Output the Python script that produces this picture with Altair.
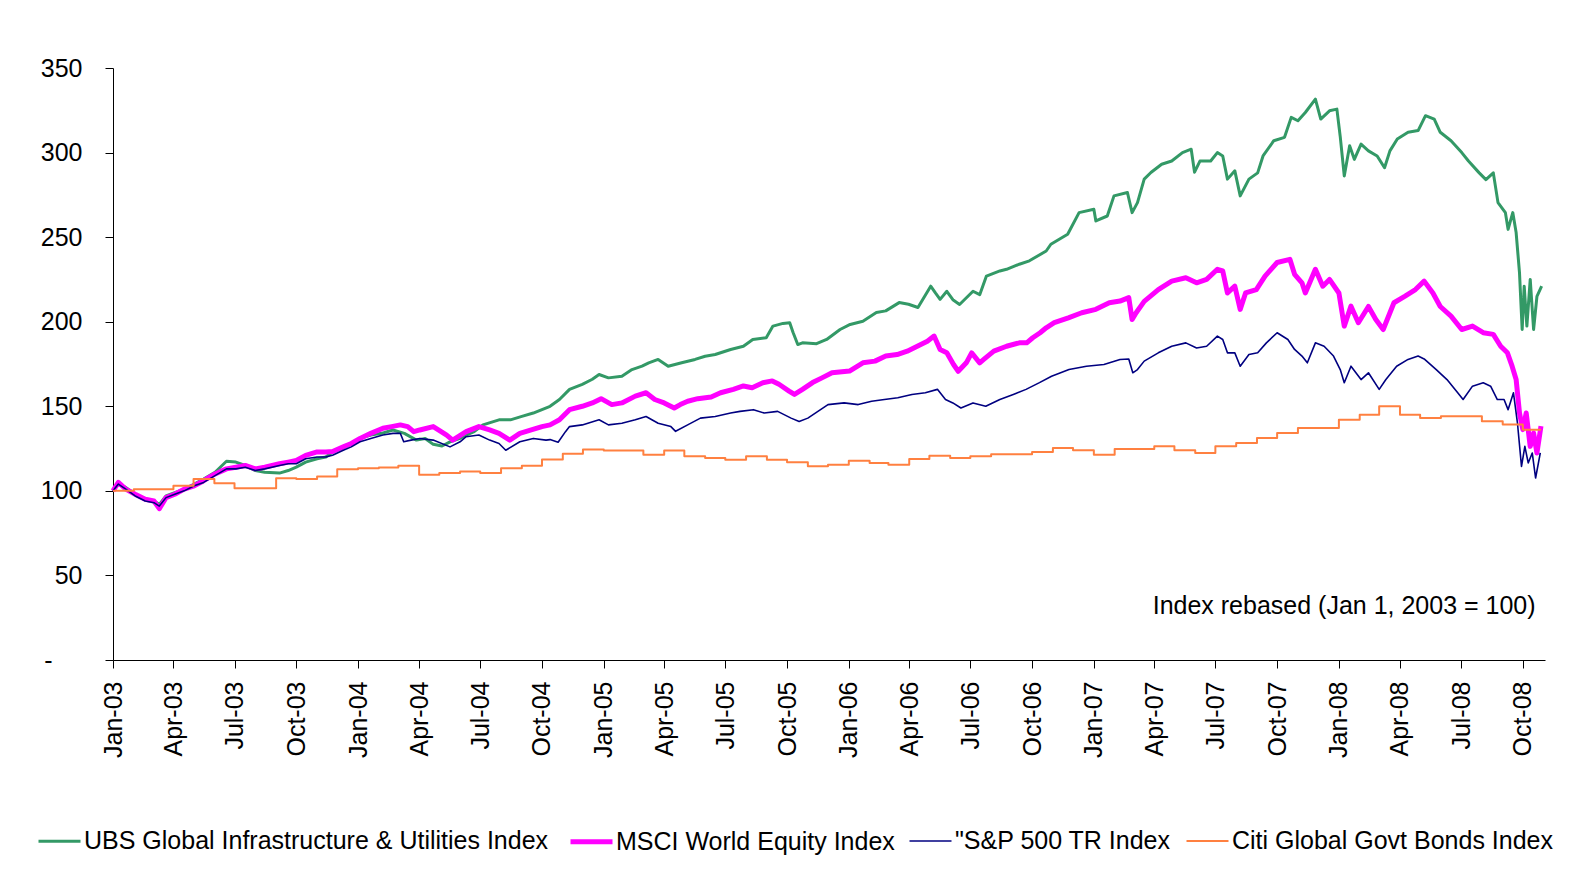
import altair as alt
import pandas as pd

SERIES = [
    "UBS Global Infrastructure & Utilities Index",
    "MSCI World Equity Index",
    "\"S&P 500 TR Index",
    "Citi Global Govt Bonds Index",
]
COLORS = ["#339966", "#FF00FF", "#000080", "#FF8040"]
WIDTHS = [3, 5, 1.6, 2]

UBS_DATES = [
    "2003-01-01", "2003-01-09", "2003-01-20", "2003-02-03", "2003-02-18", "2003-03-03", "2003-03-11", "2003-03-21",
    "2003-04-03", "2003-04-17", "2003-05-02", "2003-05-16", "2003-06-02", "2003-06-19", "2003-07-03", "2003-07-17",
    "2003-08-01", "2003-08-15", "2003-09-06", "2003-09-19", "2003-10-01", "2003-10-15", "2003-11-01", "2003-11-14",
    "2003-11-24", "2003-12-10", "2003-12-22", "2004-01-04", "2004-01-20", "2004-02-05", "2004-02-22", "2004-03-10",
    "2004-03-28", "2004-04-10", "2004-04-22", "2004-05-05", "2004-05-17", "2004-06-01", "2004-06-10", "2004-06-22",
    "2004-07-05", "2004-07-29", "2004-08-15", "2004-09-01", "2004-09-18", "2004-10-13", "2004-10-27", "2004-11-11",
    "2004-11-30", "2004-12-15", "2004-12-25", "2005-01-08", "2005-01-28", "2005-02-12", "2005-02-27", "2005-03-09",
    "2005-03-23", "2005-04-07", "2005-04-27", "2005-05-17", "2005-06-01", "2005-06-16", "2005-07-09", "2005-07-28",
    "2005-08-11", "2005-08-31", "2005-09-10", "2005-09-25", "2005-10-05", "2005-10-10", "2005-10-17", "2005-10-24",
    "2005-11-14", "2005-11-29", "2005-12-19", "2006-01-03", "2006-01-22", "2006-02-11", "2006-02-25", "2006-03-17",
    "2006-03-31", "2006-04-14", "2006-05-03", "2006-05-10", "2006-05-17", "2006-05-27", "2006-06-05", "2006-06-15",
    "2006-07-05", "2006-07-15", "2006-07-25", "2006-08-14", "2006-08-24", "2006-09-12", "2006-09-27", "2006-10-22",
    "2006-10-29", "2006-11-23", "2006-12-10", "2007-01-01", "2007-01-04", "2007-01-21", "2007-01-31", "2007-02-20",
    "2007-02-27", "2007-03-07", "2007-03-17", "2007-03-27", "2007-04-12", "2007-04-27", "2007-05-13", "2007-05-26",
    "2007-05-31", "2007-06-08", "2007-06-24", "2007-07-04", "2007-07-12", "2007-07-19", "2007-07-30", "2007-08-07",
    "2007-08-20", "2007-09-02", "2007-09-10", "2007-09-26", "2007-10-12", "2007-10-22", "2007-11-01", "2007-11-12",
    "2007-11-27", "2007-12-05", "2007-12-18", "2007-12-29", "2008-01-03", "2008-01-09", "2008-01-17", "2008-01-24",
    "2008-02-03", "2008-02-14", "2008-02-27", "2008-03-09", "2008-03-17", "2008-03-28", "2008-04-13", "2008-04-28",
    "2008-05-09", "2008-05-22", "2008-05-31", "2008-06-16", "2008-07-02", "2008-07-12", "2008-07-28", "2008-08-07",
    "2008-08-18", "2008-08-25", "2008-09-05", "2008-09-09", "2008-09-16", "2008-09-21", "2008-09-26", "2008-09-30",
    "2008-10-03", "2008-10-07", "2008-10-12", "2008-10-17", "2008-10-22", "2008-10-29",
]
UBS_VALUES = [
    100, 104, 102, 98, 95, 94, 92, 97,
    99, 101, 104, 107, 111, 117.5, 117, 115,
    112, 111, 110.5, 112, 114, 117, 119, 120,
    123, 126, 128, 131, 133, 134, 136, 134,
    130, 131, 127.5, 126.5, 129, 131, 133, 135,
    139, 142, 142, 144, 146, 150, 154, 160,
    163, 166, 168.8, 166.8, 167.8, 171.7, 173.7, 175.7,
    177.7, 173.7, 175.7, 177.7, 179.6, 180.6, 183.6, 185.5,
    189.5, 190.5, 197.4, 199, 199.4, 193.6, 186.5, 187.5,
    187, 189.5, 195.4, 198.4, 200.3, 205.4, 206.4, 211.3,
    210.3, 208.4, 221, 217, 213.2, 218, 213, 210.2,
    218, 216, 227, 230, 231, 234, 236, 241.8,
    245.8, 251.7, 264.5, 266.5, 259.6, 262.5, 274.4, 276.4,
    264.5, 270.4, 284.3, 288.2, 293.1, 295, 300, 302,
    288.4, 295, 295, 300, 298, 284.3, 289.2, 274.4,
    284.3, 288, 298, 307, 309, 320.8, 318.8, 323.7,
    331.6, 319.8, 324.7, 325.7, 309.4, 286.2, 304, 296,
    305, 301, 298, 291, 301, 308, 312, 313,
    321.8, 319.8, 312, 307, 300, 295, 288, 284,
    288, 270.4, 264.5, 254.6, 264.5, 252.7, 229, 195.4,
    221, 197.4, 225, 195.4, 215, 221,
]

MSCI_DATES = [
    "2003-01-01", "2003-01-09", "2003-01-20", "2003-02-03", "2003-02-18", "2003-03-03", "2003-03-11", "2003-03-21",
    "2003-04-03", "2003-04-17", "2003-05-02", "2003-05-16", "2003-06-02", "2003-06-19", "2003-07-03", "2003-07-17",
    "2003-08-01", "2003-08-15", "2003-09-06", "2003-09-19", "2003-10-01", "2003-10-15", "2003-11-01", "2003-11-14",
    "2003-11-24", "2003-12-10", "2003-12-22", "2004-01-04", "2004-01-20", "2004-02-07", "2004-02-20", "2004-03-04",
    "2004-03-15", "2004-03-24", "2004-04-02", "2004-04-22", "2004-05-12", "2004-05-21", "2004-06-10", "2004-06-29",
    "2004-07-15", "2004-07-29", "2004-08-14", "2004-08-29", "2004-09-15", "2004-10-01", "2004-10-13", "2004-10-27",
    "2004-11-11", "2004-11-30", "2004-12-15", "2004-12-28", "2005-01-13", "2005-01-28", "2005-02-17", "2005-03-05",
    "2005-03-18", "2005-04-01", "2005-04-16", "2005-04-25", "2005-05-06", "2005-05-21", "2005-06-10", "2005-06-24",
    "2005-07-13", "2005-07-28", "2005-08-10", "2005-08-26", "2005-09-09", "2005-09-19", "2005-10-04", "2005-10-12",
    "2005-10-24", "2005-11-08", "2005-11-22", "2005-12-07", "2006-01-02", "2006-01-22", "2006-02-09", "2006-02-25",
    "2006-03-14", "2006-03-29", "2006-04-13", "2006-04-28", "2006-05-08", "2006-05-17", "2006-05-27", "2006-06-06",
    "2006-06-13", "2006-06-25", "2006-07-03", "2006-07-15", "2006-07-21", "2006-08-05", "2006-08-24", "2006-09-12",
    "2006-09-23", "2006-10-02", "2006-10-13", "2006-10-22", "2006-11-03", "2006-11-24", "2006-12-14", "2007-01-04",
    "2007-01-24", "2007-02-09", "2007-02-22", "2007-02-27", "2007-03-05", "2007-03-17", "2007-04-07", "2007-04-27",
    "2007-05-18", "2007-06-03", "2007-06-18", "2007-07-04", "2007-07-12", "2007-07-19", "2007-07-30", "2007-08-07",
    "2007-08-15", "2007-08-31", "2007-09-13", "2007-10-01", "2007-10-20", "2007-10-27", "2007-11-07", "2007-11-12",
    "2007-11-27", "2007-12-08", "2007-12-18", "2008-01-01", "2008-01-09", "2008-01-19", "2008-01-30", "2008-02-14",
    "2008-02-25", "2008-03-07", "2008-03-23", "2008-04-08", "2008-04-24", "2008-05-07", "2008-05-20", "2008-05-31",
    "2008-06-16", "2008-07-02", "2008-07-18", "2008-08-03", "2008-08-18", "2008-08-29", "2008-09-08", "2008-09-15",
    "2008-09-21", "2008-09-26", "2008-10-01", "2008-10-06", "2008-10-12", "2008-10-17", "2008-10-22", "2008-10-28",
]
MSCI_VALUES = [
    100, 105, 101, 98, 95, 94, 89.5, 96,
    98, 101, 103, 106, 110, 113, 114, 115,
    113, 114, 116, 117, 118, 121, 123, 123,
    123.3, 126, 128, 131, 134, 137, 138, 139,
    138, 135, 136, 138, 133, 130, 135, 138,
    136, 134, 130, 134, 136, 138, 139, 142,
    148, 150, 152, 154.5, 151, 152, 156, 158,
    154, 152, 149, 151, 153, 154.5, 155.5, 158,
    160, 162, 161, 163.9, 165, 163, 159, 157,
    160, 164, 166.8, 169.8, 170.8, 175.7, 176.7, 179.7,
    180.6, 182.6, 185.5, 188.5, 191.5, 183.6, 181.6, 174.7,
    170.7, 175.7, 181.6, 175.7, 177.7, 182.6, 185.5, 187.5,
    187.5, 190.5, 193.5, 196.4, 199.4, 202.3, 205.3, 207.3,
    211.2, 212.2, 214.2, 201.3, 205.3, 212, 219, 224,
    226, 223, 225, 231, 230, 217, 221, 207.3,
    217, 219, 227, 235, 236.9, 228, 223, 217,
    231, 221, 225, 217, 197.4, 209.2, 199.4, 209,
    201.3, 195.4, 211.2, 215, 219, 224, 217, 209,
    203.3, 195.4, 197.4, 193.5, 192.5, 185.5, 181.6, 173.7,
    165.8, 146, 136.2, 146, 126.3, 134.2, 122.4, 138.2,
]

SP_DATES = [
    "2003-01-01", "2003-01-09", "2003-01-20", "2003-02-03", "2003-02-18", "2003-03-03", "2003-03-11", "2003-03-21",
    "2003-04-03", "2003-04-17", "2003-05-02", "2003-05-16", "2003-06-02", "2003-06-19", "2003-07-03", "2003-07-17",
    "2003-08-01", "2003-08-15", "2003-09-06", "2003-09-19", "2003-10-01", "2003-10-15", "2003-11-01", "2003-11-14",
    "2003-11-24", "2003-12-10", "2003-12-22", "2004-01-04", "2004-01-20", "2004-02-07", "2004-02-22", "2004-03-04",
    "2004-03-09", "2004-03-20", "2004-04-02", "2004-04-22", "2004-05-17", "2004-06-01", "2004-06-10", "2004-06-29",
    "2004-07-15", "2004-07-29", "2004-08-08", "2004-08-29", "2004-09-18", "2004-10-07", "2004-10-13", "2004-10-25",
    "2004-11-05", "2004-11-11", "2004-11-30", "2004-12-25", "2005-01-08", "2005-01-28", "2005-02-17", "2005-03-05",
    "2005-03-23", "2005-04-11", "2005-04-18", "2005-05-06", "2005-05-25", "2005-06-16", "2005-07-09", "2005-07-23",
    "2005-08-12", "2005-08-28", "2005-09-17", "2005-10-07", "2005-10-19", "2005-11-01", "2005-11-16", "2005-12-01",
    "2005-12-25", "2006-01-15", "2006-02-04", "2006-02-23", "2006-03-15", "2006-04-05", "2006-04-25", "2006-05-13",
    "2006-05-25", "2006-06-05", "2006-06-17", "2006-07-05", "2006-07-24", "2006-08-14", "2006-09-03", "2006-09-22",
    "2006-10-12", "2006-10-30", "2006-11-25", "2006-12-21", "2007-01-16", "2007-02-09", "2007-02-22", "2007-02-28",
    "2007-03-07", "2007-03-17", "2007-04-07", "2007-04-27", "2007-05-18", "2007-06-03", "2007-06-18", "2007-07-04",
    "2007-07-12", "2007-07-19", "2007-07-30", "2007-08-07", "2007-08-20", "2007-09-02", "2007-09-15", "2007-10-01",
    "2007-10-17", "2007-10-27", "2007-11-07", "2007-11-15", "2007-11-27", "2007-12-10", "2007-12-24", "2008-01-03",
    "2008-01-09", "2008-01-19", "2008-02-03", "2008-02-14", "2008-03-01", "2008-03-11", "2008-03-27", "2008-04-13",
    "2008-04-28", "2008-05-07", "2008-05-25", "2008-06-10", "2008-06-26", "2008-07-04", "2008-07-18", "2008-08-03",
    "2008-08-14", "2008-08-24", "2008-09-03", "2008-09-09", "2008-09-17", "2008-09-23", "2008-09-29", "2008-10-04",
    "2008-10-09", "2008-10-15", "2008-10-20", "2008-10-27",
]
SP_VALUES = [
    100, 104, 101, 97, 94, 93, 91, 96,
    98, 100, 103, 105, 109, 113, 113, 114,
    112, 113, 115, 116, 116, 119, 120, 120,
    121, 124, 126, 129, 131, 133, 134, 134,
    129, 130, 131, 130, 126, 129, 132, 133,
    130, 128, 124, 129, 131, 130, 130.3, 128.7,
    135, 138, 139, 142, 139, 140, 142, 144,
    140, 138, 135.2, 139, 143, 144, 146, 147,
    148, 146, 147, 143, 141, 143, 147, 151,
    152, 151, 153, 154, 155, 157, 158, 160,
    154, 152, 149, 152, 150, 154, 157, 160,
    164, 167.8, 171.7, 173.7, 174.7, 177.7, 178, 169.8,
    171.7, 176.7, 181.6, 185.5, 187.5, 184.5, 185.5, 191.5,
    189.5, 181.6, 181.6, 173.7, 180.6, 181.6, 187.5, 193.5,
    189.5, 183.6, 179.7, 175.7, 187.5, 185.5, 179.7, 171.7,
    163.9, 173.7, 165.8, 169.8, 160, 165.8, 173.7, 177.7,
    179.7, 178, 171.7, 165.8, 158, 154, 161.9, 163.9,
    161.9, 154, 154, 148, 158, 140, 114.5, 126.3,
    116.5, 122.4, 107.6, 122.4,
]

BOND_DATES = [
    "2003-01-01", "2003-02-01", "2003-03-01", "2003-04-01", "2003-05-01", "2003-06-01", "2003-07-01", "2003-08-01",
    "2003-09-01", "2003-10-01", "2003-11-01", "2003-12-01", "2004-01-01", "2004-02-01", "2004-03-01", "2004-04-01",
    "2004-05-01", "2004-06-01", "2004-07-01", "2004-08-01", "2004-09-01", "2004-10-01", "2004-11-01", "2004-12-01",
    "2005-01-01", "2005-02-01", "2005-03-01", "2005-04-01", "2005-05-01", "2005-06-01", "2005-07-01", "2005-08-01",
    "2005-09-01", "2005-10-01", "2005-11-01", "2005-12-01", "2006-01-01", "2006-02-01", "2006-03-01", "2006-04-01",
    "2006-05-01", "2006-06-01", "2006-07-01", "2006-08-01", "2006-09-01", "2006-10-01", "2006-11-01", "2006-12-01",
    "2007-01-01", "2007-02-01", "2007-03-01", "2007-04-01", "2007-05-01", "2007-06-01", "2007-07-01", "2007-08-01",
    "2007-09-01", "2007-10-01", "2007-11-01", "2007-12-01", "2008-01-01", "2008-02-01", "2008-03-01", "2008-04-01",
    "2008-05-01", "2008-06-01", "2008-07-01", "2008-08-01", "2008-09-01", "2008-10-01", "2008-10-28",
]
BOND_VALUES = [
    100, 101, 101, 103, 107, 104.5, 101.6, 101.6,
    107.5, 107, 108.5, 112.8, 113.4, 113.8, 114.8, 109.5,
    110.5, 111.5, 110.5, 113.4, 114.8, 118.6, 122, 124.4,
    123.8, 123.8, 121.4, 123.8, 120.4, 119.4, 118.4, 120.4,
    118.4, 116.9, 114.5, 115.5, 117.8, 116.5, 115.5, 118.9,
    120.8, 119.4, 120.4, 121.6, 121.6, 122.9, 125.4, 124,
    121.4, 124.8, 124.8, 126.3, 124, 122.4, 126.3, 128.3,
    131.3, 134.2, 137.2, 137.2, 142.1, 145, 150, 145,
    143.1, 144.1, 144.1, 141.1, 139.2, 136.2, 136.2,
]

X_TICKS = [(y, m) for y in range(2003, 2009) for m in (1, 4, 7, 10)]
Y_TICKS = [0, 50, 100, 150, 200, 250, 300, 350]
NOTE_TEXT = "Index rebased (Jan 1, 2003 = 100)"
NOTE_DATE = "2008-10-20"
NOTE_VALUE = 27.2

FONT = "Liberation Sans"

rows = []
for name, dates, vals in [
    (SERIES[0], UBS_DATES, UBS_VALUES),
    (SERIES[1], MSCI_DATES, MSCI_VALUES),
    (SERIES[2], SP_DATES, SP_VALUES),
    (SERIES[3], BOND_DATES, BOND_VALUES),
]:
    for d, v in zip(dates, vals):
        rows.append({"date": d, "value": v, "series": name})
df = pd.DataFrame(rows)
note_df = pd.DataFrame({"date": [NOTE_DATE], "value": [NOTE_VALUE], "label": [NOTE_TEXT]})

x_enc = alt.X(
    "date:T",
    title=None,
    scale=alt.Scale(
        type="utc",
        domain=[alt.DateTime(year=2003, month=1, date=1, utc=True),
                alt.DateTime(year=2008, month=11, date=3, utc=True)],
    ),
    axis=alt.Axis(
        values=[alt.DateTime(year=y, month=m, date=1, utc=True) for y, m in X_TICKS],
        labelExpr="utcFormat(datum.value, '%b-%y')",
        labelAngle=-90,
        labelPadding=13,
    ),
)
y_enc = alt.Y(
    "value:Q",
    title=None,
    scale=alt.Scale(domain=[0, 350], nice=False, zero=True),
    axis=alt.Axis(
        values=Y_TICKS,
        labelExpr="datum.value == 0 ? '-' : datum.label",
        labelPadding={"condition": {"test": "datum.value == 0", "value": 53}, "value": 23},
    ),
)
leg = alt.Legend(
    title=None,
    orient="none",
    legendX=-77,
    legendY=750,
    direction="horizontal",
    columns=4,
    columnPadding=11,
    labelOffset=1,
    symbolType="stroke",
    symbolSize=1764,
    labelFontSize=25,
    labelFont=FONT,
    labelColor="black",
    labelLimit=1000,
    padding=0,
)
color_enc = alt.Color("series:N", scale=alt.Scale(domain=SERIES, range=COLORS), legend=leg)
width_enc = alt.StrokeWidth(
    "series:N", scale=alt.Scale(type="ordinal", domain=SERIES, range=WIDTHS), legend=leg
)

layers = []
for i, s in enumerate(SERIES):
    interp = "step-after" if i == 3 else "linear"
    layers.append(
        alt.Chart(df)
        .transform_filter(alt.datum.series == s)
        .mark_line(interpolate=interp, strokeJoin="round")
        .encode(x=x_enc, y=y_enc, color=color_enc, strokeWidth=width_enc)
    )

note = (
    alt.Chart(note_df)
    .mark_text(align="right", baseline="alphabetic", fontSize=25, font=FONT, color="black")
    .encode(x=x_enc, y=y_enc, text="label:N")
)

chart = (
    alt.layer(*layers, note)
    .properties(
        width=1432,
        height=592,
        padding={"left": 105, "top": 60, "right": 15, "bottom": 200},
        autosize=alt.AutoSizeParams(type="none"),
        background="white",
    )
    .configure_view(stroke=None)
    .configure_axis(
        labelFont=FONT,
        labelFontSize=25,
        labelColor="black",
        domainColor="black",
        tickColor="black",
        tickSize=8,
        grid=False,
        domainWidth=1,
        tickWidth=1,
    )
)

chart.save("out.html", embed_options={"renderer": "svg", "actions": False})
